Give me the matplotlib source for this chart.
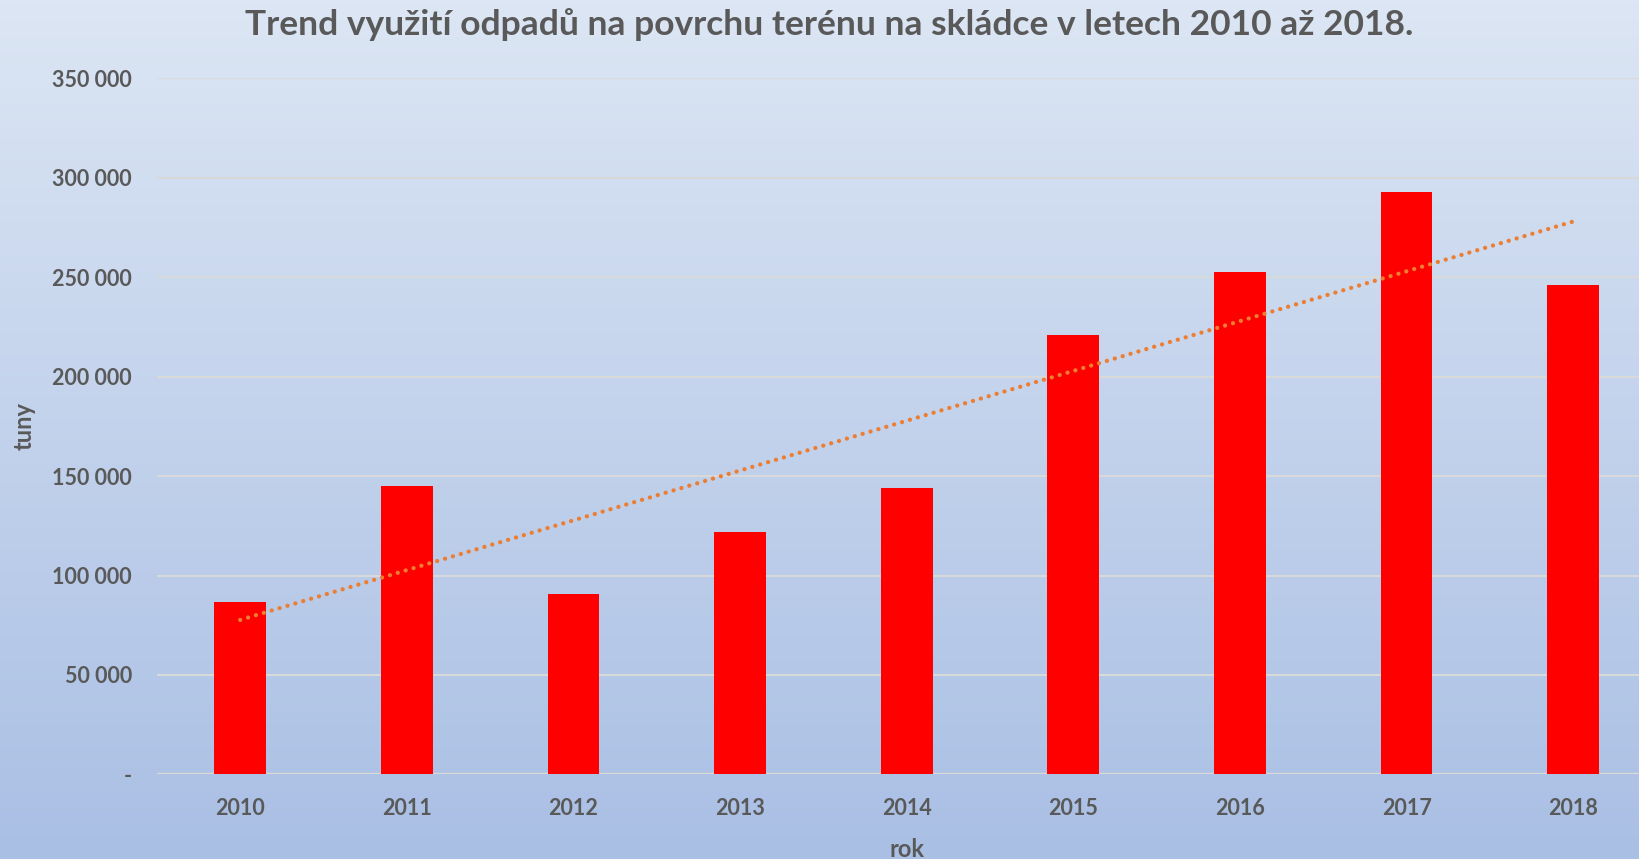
import numpy as np
import matplotlib
matplotlib.use("Agg")
import matplotlib.pyplot as plt
from matplotlib.ticker import FuncFormatter

# Data
roky = [2010, 2011, 2012, 2013, 2014, 2015, 2016, 2017, 2018]
tuny = [86700, 145000, 90900, 121900, 144000, 220700, 252800, 292700, 245900]
y_ticks = [0, 50000, 100000, 150000, 200000, 250000, 300000, 350000]

title = "Trend využití odpadů na povrchu terénu na skládce v letech 2010 až 2018."
text_color = "#595959"

plt.rcParams['font.family'] = ['Lato', 'DejaVu Sans']
plt.rcParams['font.weight'] = 'bold'

fig = plt.figure(figsize=(16.39, 8.59), dpi=100)

# Gradient background
bg = fig.add_axes([0, 0, 1, 1], zorder=0)
grad = np.linspace(0, 1, 256).reshape(-1, 1)
top = np.array([0xdc, 0xe6, 0xf4]) / 255
bottom = np.array([0xa9, 0xbf, 0xe4]) / 255
img = top + (bottom - top) * grad[:, :, None]
bg.imshow(img, aspect='auto', extent=[0, 1, 0, 1])
bg.axis("off")

ax = fig.add_axes([0.0957, 0.0985, 0.915, 0.8103], zorder=1)
ax.set_facecolor("none")

x = np.arange(len(roky))
ax.bar(x, tuny, width=0.31, color="#ff0000", zorder=3)

# Linear trend
k, q = np.polyfit(x, tuny, 1)
ax.plot(x, k * x + q, color="#ed7d31", linewidth=3.1,
        linestyle=(0, (0.01, 1.9)), dash_capstyle='round', zorder=4)

ax.set_xlim(-0.5, len(roky) - 0.5)
ax.set_ylim(0, 350000)
ax.set_yticks(y_ticks)
ax.yaxis.set_major_formatter(FuncFormatter(
    lambda v, p: "-" if v == 0 else f"{int(v):,}".replace(",", " ")))
ax.set_xticks(x)
ax.set_xticklabels([str(r) for r in roky])

ax.grid(axis='y', color="#d9d9d9", linewidth=1.5, zorder=1)
ax.axhline(0, color="#d9d9d9", linewidth=2.5, zorder=2)
for s in ax.spines.values():
    s.set_visible(False)
ax.tick_params(length=0, colors=text_color, labelsize=15.5)
ax.tick_params(axis='y', pad=18)
ax.tick_params(axis='x', pad=17)

ax.set_ylabel("tuny", color=text_color, fontsize=17, fontweight='bold', labelpad=12)
ax.set_xlabel("rok", color=text_color, fontsize=17, fontweight='bold', labelpad=14)

fig.text(0.506, 0.972, title, ha='center', va='center', color=text_color,
         fontsize=25.5, fontweight='bold')

fig.savefig("out.png", dpi=100)
